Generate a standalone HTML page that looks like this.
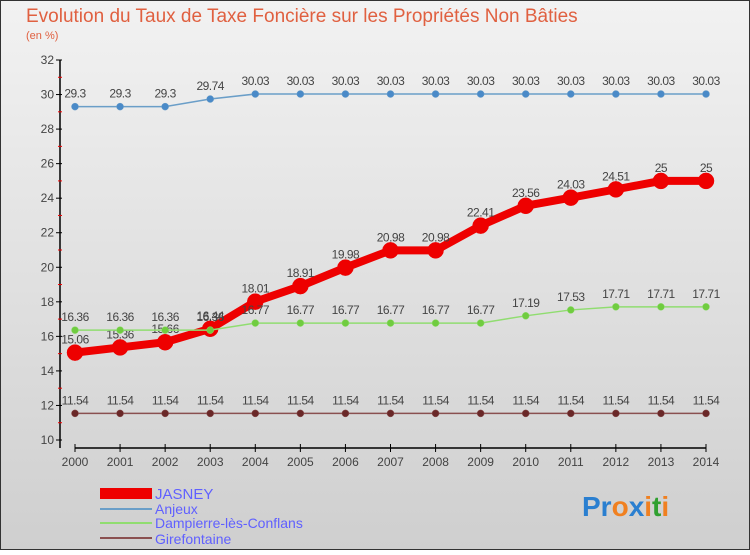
<!DOCTYPE html>
<html><head><meta charset="utf-8"><style>
body{margin:0;width:750px;height:550px;overflow:hidden;font-family:"Liberation Sans",sans-serif}
</style></head><body>
<svg id="c" width="750" height="550" xmlns="http://www.w3.org/2000/svg">
<defs><linearGradient id="bg" x1="0" y1="0" x2="0" y2="1"><stop offset="0" stop-color="#f2f2f2"/><stop offset="1" stop-color="#cfcfcf"/></linearGradient></defs>
<rect x="0.5" y="0.5" width="749" height="549" fill="url(#bg)" stroke="#333"/>
<text x="26" y="22" font-size="19" fill="#e06040">Evolution du Taux de Taxe Foncière sur les Propriétés Non Bâties</text>
<text x="26" y="39" font-size="11" fill="#e06040">(en %)</text>
<g id="axes"></g><g id="series"></g>
<g>
<rect x="100" y="488" width="52" height="11" fill="#e00"/>
<text x="155" y="499" font-size="15" fill="#6060ff">JASNEY</text>
<line x1="100" y1="509" x2="152" y2="509" stroke="#6a9ec8" stroke-width="2"/>
<text x="155" y="514" font-size="14" fill="#6060ff">Anjeux</text>
<line x1="100" y1="523" x2="152" y2="523" stroke="#90dd70" stroke-width="2"/>
<text x="155" y="528" font-size="14" fill="#6060ff">Dampierre-lès-Conflans</text>
<line x1="100" y1="538" x2="152" y2="538" stroke="#8a5050" stroke-width="2"/>
<text x="155" y="544" font-size="14" fill="#6060ff">Girefontaine</text>
</g>
<text x="582" y="516" font-size="28" font-weight="bold"><tspan fill="#2a7fd0">Pr</tspan><tspan fill="#f08020">o</tspan><tspan fill="#2a7fd0">x</tspan><tspan fill="#f08020">i</tspan><tspan fill="#30a030">t</tspan><tspan fill="#f08020">i</tspan></text>
</svg>
<script>
const years=[2000,2001,2002,2003,2004,2005,2006,2007,2008,2009,2010,2011,2012,2013,2014];
const jasney=[15.06,15.36,15.66,16.44,18.01,18.91,19.98,20.98,20.98,22.41,23.56,24.03,24.51,25,25];
const anjeux=[29.3,29.3,29.3,29.74,30.03,30.03,30.03,30.03,30.03,30.03,30.03,30.03,30.03,30.03,30.03];
const dampierre=[16.36,16.36,16.36,16.36,16.77,16.77,16.77,16.77,16.77,16.77,17.19,17.53,17.71,17.71,17.71];
const girefontaine=[11.54,11.54,11.54,11.54,11.54,11.54,11.54,11.54,11.54,11.54,11.54,11.54,11.54,11.54,11.54];
const yTicks=[10,12,14,16,18,20,22,24,26,28,30,32];
const NS="http://www.w3.org/2000/svg";
const X=i=>75+i*(706-75)/(years.length-1);
const Y=v=>440-(v-10)*(380/22);
function mk(t,a,p){const e=document.createElementNS(NS,t);for(const k in a)e.setAttribute(k,a[k]);p.appendChild(e);return e;}
const ax=document.getElementById('axes'),sr=document.getElementById('series');
let e=mk('line',{x1:60,y1:60,x2:60,y2:448,stroke:'#000','stroke-width':1.5},ax);


e=mk('line',{x1:75,y1:448,x2:706,y2:448,stroke:'#000','stroke-width':1.5},ax);


yTicks.forEach(v=>{const y=Y(v);
mk('line',{x1:56,y1:y,x2:62,y2:y,stroke:'#000'},ax);
mk('line',{x1:58,y1:Y(v+1),x2:62,y2:Y(v+1),stroke:v<32?'#e00':'none'},ax);
const t=mk('text',{x:54,y:y+4,'font-size':12,fill:'#444','text-anchor':'end'},ax);t.textContent=v;

});
years.forEach((yr,i)=>{mk('line',{x1:X(i),y1:444,x2:X(i),y2:452,stroke:'#000'},ax);
const t=mk('text',{x:X(i),y:466,'font-size':12,fill:'#444','text-anchor':'middle'},ax);t.textContent=yr;

});
function series(vals,name,color,dot,w,r){
const g=mk('g',{},sr);


mk('polyline',{points:vals.map((v,i)=>X(i)+','+Y(v)).join(' '),fill:'none',stroke:color,'stroke-width':w},g);
vals.forEach((v,i)=>{const c=mk('circle',{cx:X(i),cy:Y(v),r:r,fill:dot,stroke:color,'stroke-width':0.5},g);


const t=mk('text',{x:X(i),y:Y(v)-9,'font-size':12,fill:'#444','text-anchor':'middle','letter-spacing':'-0.5'},g);t.textContent=v;

});}
series(girefontaine,'girefontaine','#8a5050','#6a2828',1.5,3.5);
series(anjeux,'anjeux','#6a9ec8','#4a8ac8',1.5,3.5);
series(jasney,'jasney','#e00','#e00',8,8);
series(dampierre,'dampierre','#90dd70','#70cc40',1.5,3.5);
</script>
</body></html>
